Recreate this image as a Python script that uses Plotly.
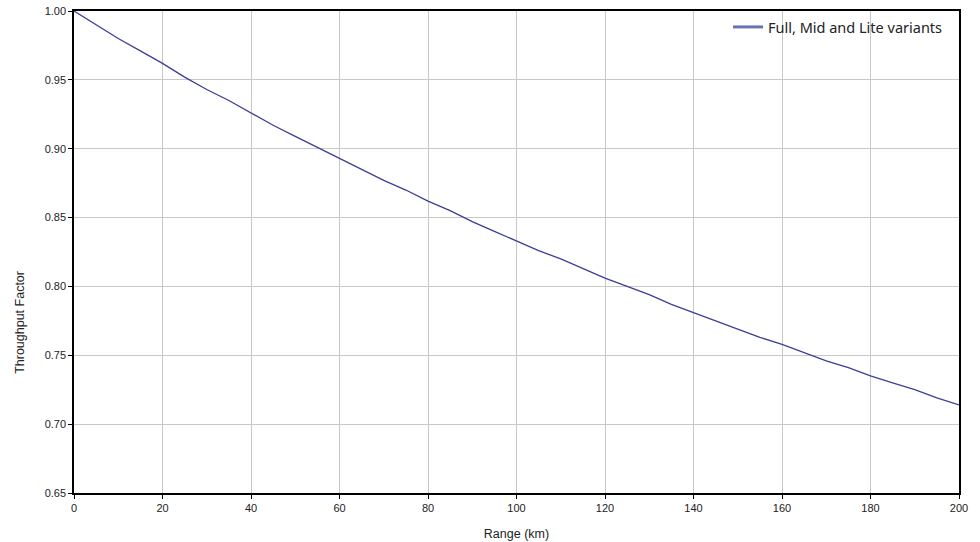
import plotly.graph_objects as go

range_km = [0, 5, 10, 15, 20, 25, 30, 35, 40, 45, 50, 55, 60, 65, 70, 75, 80, 85, 90, 95, 100,
            105, 110, 115, 120, 125, 130, 135, 140, 145, 150, 155, 160, 165, 170, 175, 180,
            185, 190, 195, 200]
throughput = [1.000, 0.990, 0.980, 0.971, 0.962, 0.952, 0.943, 0.935, 0.926, 0.917, 0.909,
              0.901, 0.893, 0.885, 0.877, 0.870, 0.862, 0.855, 0.847, 0.840, 0.833,
              0.826, 0.820, 0.813, 0.806, 0.800, 0.794, 0.787, 0.781, 0.775, 0.769,
              0.763, 0.758, 0.752, 0.746, 0.741, 0.735, 0.730, 0.725, 0.719, 0.714]
series_name = "Full, Mid and Lite variants"
x_title = "Range (km)"
y_title = "Throughput Factor"
x_ticks = [0, 20, 40, 60, 80, 100, 120, 140, 160, 180, 200]
y_ticks = [0.65, 0.70, 0.75, 0.80, 0.85, 0.90, 0.95, 1.00]

fig = go.Figure()
fig.add_trace(go.Scatter(x=range_km, y=throughput, mode="lines",
                         line=dict(color="#3B3F98", width=1.3),
                         showlegend=False, hoverinfo="x+y"))
# legend-only entry (thicker, lighter line as in the reference legend)
fig.add_trace(go.Scatter(x=[None], y=[None], mode="lines", name=series_name,
                         line=dict(color="#6a74b4", width=3)))

font_ax = dict(family="Liberation Sans, Arial", size=11, color="#222222")
font_title = dict(family="Liberation Sans, Arial", size=12.5, color="#222222")
axis_common = dict(showline=True, linecolor="#000000", linewidth=1.5, mirror=True,
                   showgrid=True, gridcolor="#c8c8c8", gridwidth=1,
                   ticks="outside", ticklen=4, tickcolor="#000000",
                   tickfont=font_ax, zeroline=False, automargin=False)

fig.update_layout(
    width=980, height=542,
    margin=dict(l=74, r=21, t=11, b=49, autoexpand=False),
    paper_bgcolor="white", plot_bgcolor="white",
    xaxis=dict(range=[0, 200], tickvals=x_ticks,
               title=dict(text=x_title, font=font_title, standoff=16),
               **axis_common),
    yaxis=dict(range=[0.65, 1.00], tickvals=y_ticks, tickformat=".2f",
               **axis_common),
    legend=dict(x=0.739, y=1.0, xanchor="left", yanchor="top",
                bgcolor="rgba(0,0,0,0)", borderwidth=0,
                font=dict(family="Noto Sans, Open Sans", size=14.5, color="#222222")),
    annotations=[dict(text=y_title, textangle=-90, xref="paper", yref="paper",
                      x=0, y=0.353, xshift=-54, xanchor="center", yanchor="middle",
                      showarrow=False, font=font_title)],
)

fig.write_html("out.html", config={"displayModeBar": False},
               post_script="document.body.style.margin='0';")
